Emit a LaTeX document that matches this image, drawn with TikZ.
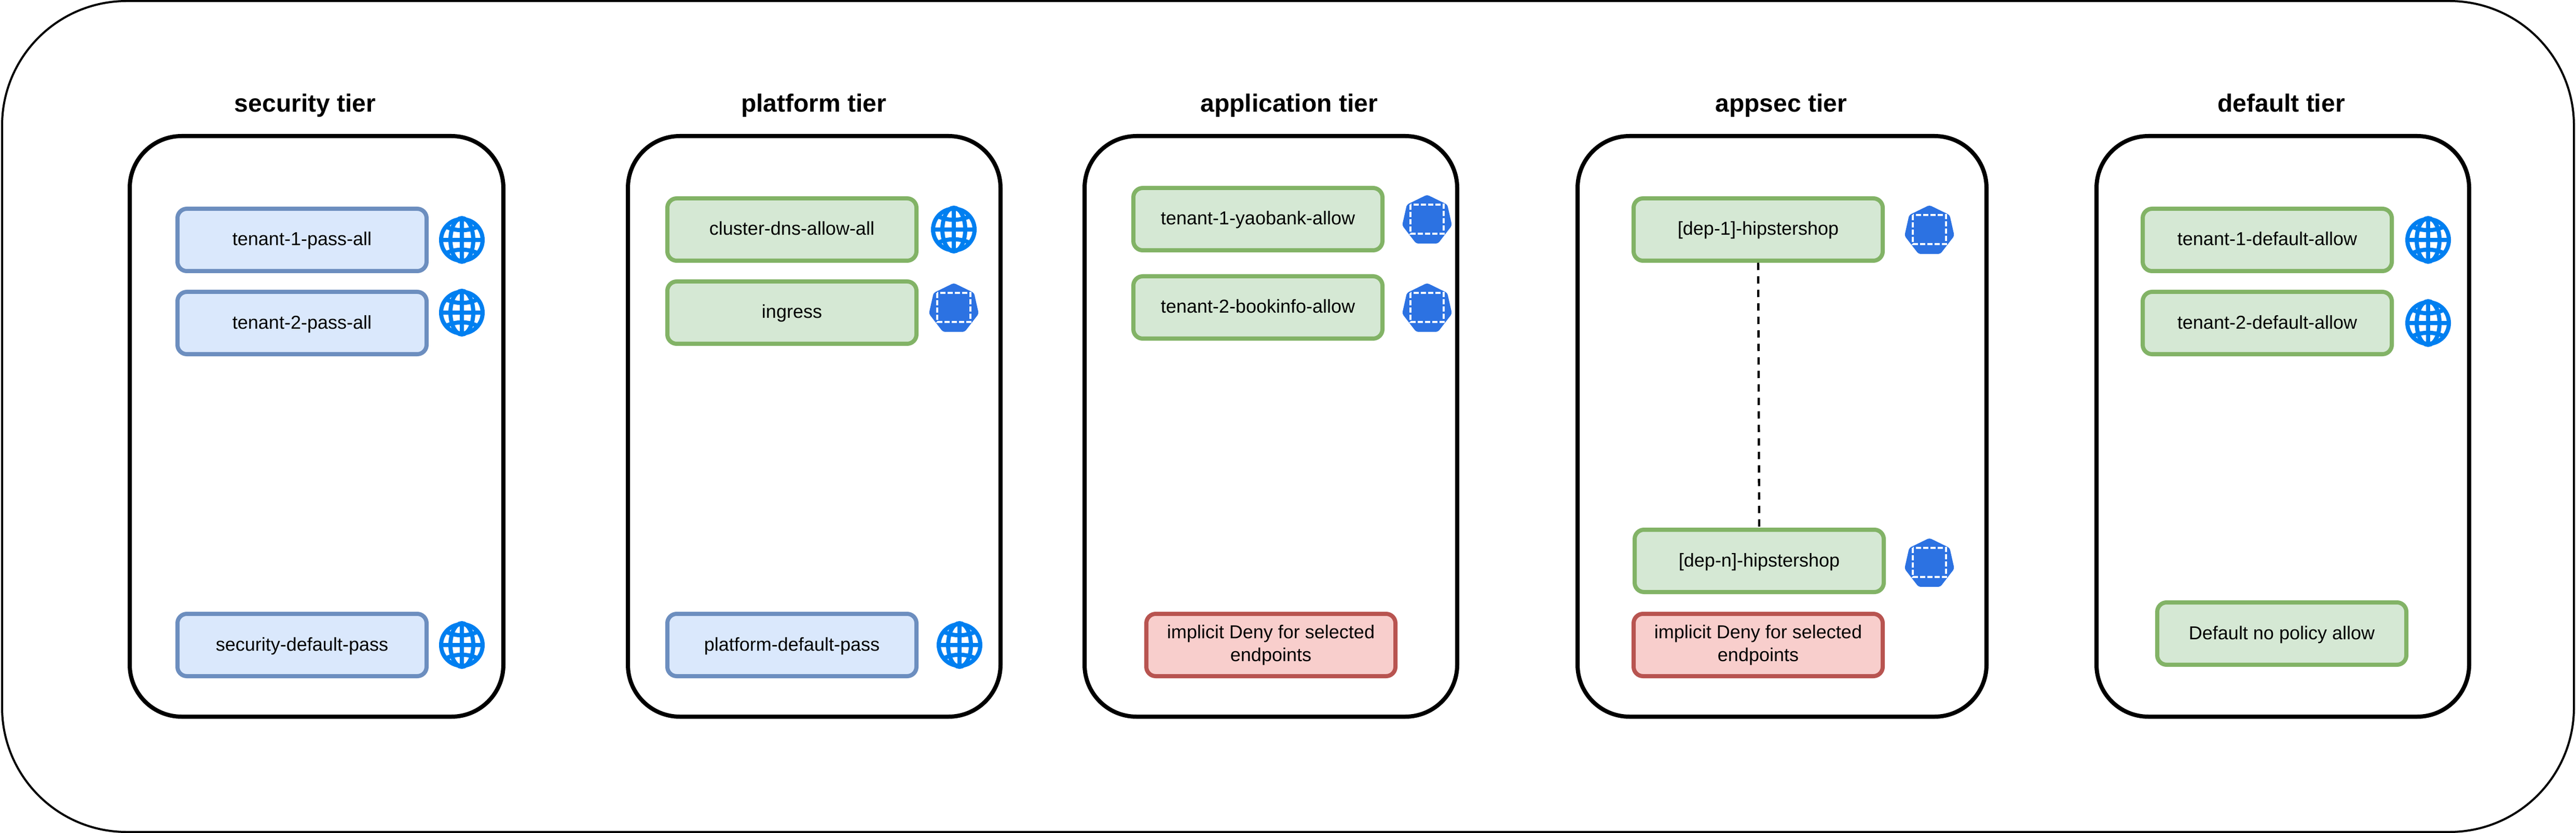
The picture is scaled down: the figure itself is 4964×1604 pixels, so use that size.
\documentclass[tikz,border=0pt]{standalone}
\usepackage{fontspec}
\setmainfont{Liberation Sans}
\definecolor{bluefill}{HTML}{DAE8FC}
\definecolor{bluedraw}{HTML}{6C8EBF}
\definecolor{greenfill}{HTML}{D5E8D4}
\definecolor{greendraw}{HTML}{82B366}
\definecolor{redfill}{HTML}{F8CECC}
\definecolor{reddraw}{HTML}{B85450}
\definecolor{globeblue}{HTML}{007FF0}
\definecolor{kubeblue}{HTML}{2C72E2}
\tikzset{
  x=0.5pt,y=-0.5pt,
  frame/.style={draw=black,line width=2pt,rounded corners=120pt,minimum width=2478pt,minimum height=800pt,inner sep=0pt},
  tier/.style={draw=black,line width=4pt,rounded corners=50pt,minimum height=559pt,inner sep=0pt},
  title/.style={font=\fontsize{24}{28}\selectfont\bfseries,inner sep=0pt,anchor=base},
  rule/.style={line width=4pt,rounded corners=9pt,minimum width=240pt,minimum height=60pt,inner sep=2pt,align=center,font=\fontsize{18}{22}\selectfont},
  oneline/.style={text height=14.5pt,text depth=3.5pt},
  passrule/.style={rule,oneline,draw=bluedraw,fill=bluefill},
  allowrule/.style={rule,oneline,draw=greendraw,fill=greenfill},
  denyrule/.style={rule,draw=reddraw,fill=redfill},
  pics/globe/.style={code={
    \draw[globeblue,line width=4pt,fill=white] (0,0) circle[radius=40];
    \draw[globeblue,line width=4pt] (0,-42)--(0,42) (-42,0)--(42,0);
    \draw[globeblue,line width=4pt] (0,0) ellipse[x radius=22,y radius=42];
    \draw[globeblue,line width=4pt] (-33,-27) .. controls (-14,-16) and (14,-16) .. (33,-27);
    \draw[globeblue,line width=4pt] (-33,27) .. controls (-14,16) and (14,16) .. (33,27);
  }},
  pics/kube/.style={code={
    \fill[kubeblue,rounded corners=2pt] (0,-47)--(39,-28)--(48,12)--(21,47)--(-21,47)--(-48,12)--(-39,-28)--cycle;
    \draw[white,line width=1.8pt,dash pattern=on 5pt off 2pt] (-32,-28) rectangle (32,28);
  }},
}
\begin{document}
\begin{tikzpicture}
\useasboundingbox (0,0) rectangle (4964,1604);
\node[frame] (outer) at (2482,802) {};
% tiers
\node[tier,minimum width=360pt] (tsec) at (610,821) {};
\node[tier,minimum width=359pt] (tpla) at (1569,821) {};
\node[tier,minimum width=359pt] (tapp) at (2449,821) {};
\node[tier,minimum width=394pt] (tsc) at (3434,821) {};
\node[tier,minimum width=359pt] (tdef) at (4399,821) {};
\node[title] (lsec) at (588,216) {security tier};
\node[title] (lpla) at (1568,216) {platform tier};
\node[title] (lapp) at (2484,216) {application tier};
\node[title] (lsc) at (3432,216) {appsec tier};
\node[title] (ldef) at (4396,216) {default tier};
% security
\node[passrule] (s1) at (582,462) {tenant-1-pass-all};
\node[passrule] (s2) at (582,622) {tenant-2-pass-all};
\node[passrule] (s3) at (582,1242) {security-default-pass};
\pic at (890,462) {globe};
\pic at (890,602) {globe};
\pic at (890,1242) {globe};
% platform
\node[allowrule] (p1) at (1526,442) {cluster-dns-allow-all};
\node[allowrule] (p2) at (1526,602) {ingress};
\node[passrule] (p3) at (1526,1242) {platform-default-pass};
\pic at (1838,442) {globe};
\pic at (1838,592) {kube};
\pic at (1849,1242) {globe};
% application
\node[allowrule] (a1) at (2424,422) {tenant-1-yaobank-allow};
\node[allowrule] (a2) at (2424,592) {tenant-2-bookinfo-allow};
\node[denyrule] (a3) at (2449,1242) {implicit Deny for selected\\endpoints};
\pic at (2750,422) {kube};
\pic at (2750,592) {kube};
% appsec
\node[allowrule] (c1) at (3388,442) {[dep-1]-hipstershop};
\node[allowrule] (c2) at (3390,1080) {[dep-n]-hipstershop};
\node[denyrule] (c3) at (3388,1242) {implicit Deny for selected\\endpoints};
\pic at (3718,442) {kube};
\pic at (3718,1083) {kube};
\draw[black,line width=2.2pt,dash pattern=on 7pt off 6pt] (c1.south) -- (c2.north);
% default
\node[allowrule] (d1) at (4369,462) {tenant-1-default-allow};
\node[allowrule] (d2) at (4369,622) {tenant-2-default-allow};
\node[allowrule] (d3) at (4397,1220) {Default no policy allow};
\pic at (4679,462) {globe};
\pic at (4679,622) {globe};
\end{tikzpicture}
\end{document}
